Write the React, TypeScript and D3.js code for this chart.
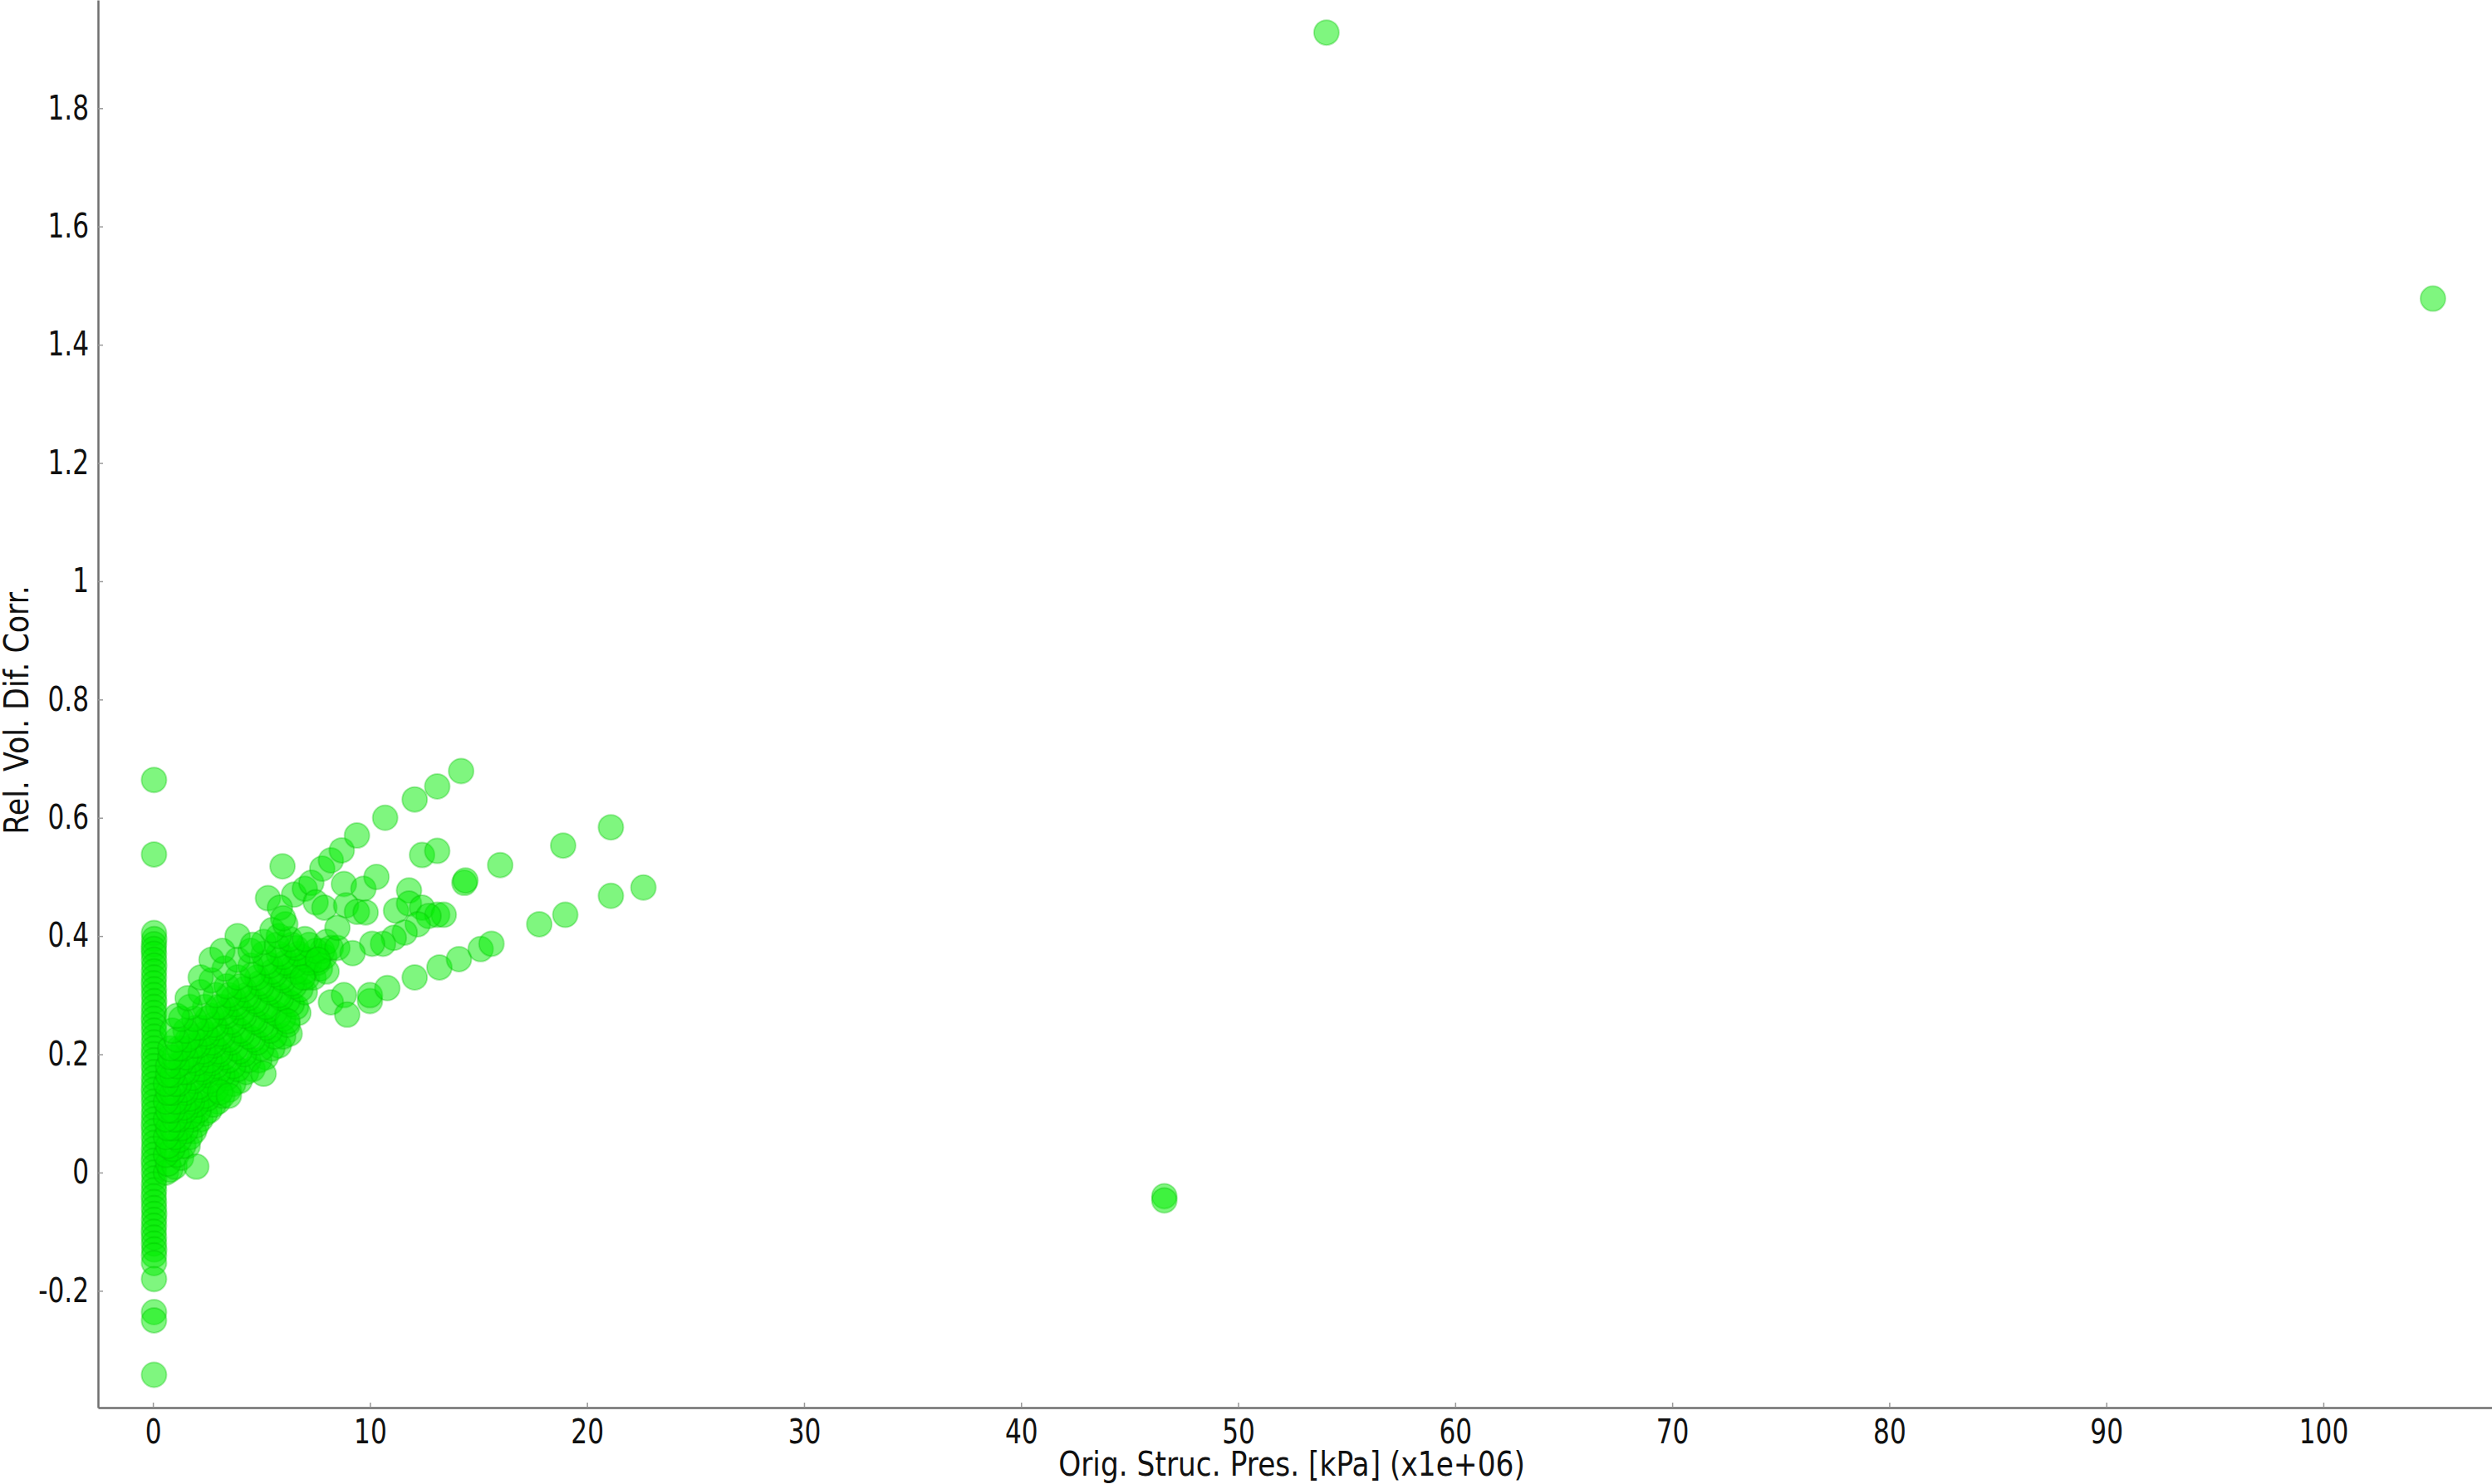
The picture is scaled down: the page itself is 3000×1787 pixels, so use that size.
import { useEffect, useRef } from "react"
import * as d3 from "d3"

// tick values
const xTicks = [0, 10, 20, 30, 40, 50, 60, 70, 80, 90, 100]
const yTicks = [-0.2, 0, 0.2, 0.4, 0.6, 0.8, 1, 1.2, 1.4, 1.6, 1.8]

// points sitting on x ~ 0 (the vertical column)
const columnPts: [number, number][] = [
  [0.05, 0.664], [0.05, 0.538], [0.05, 0.405], [0.06, 0.395], [0.05, 0.386], [0.04, 0.378],
  [0.05, 0.37], [0.05, 0.36], [0.06, 0.35], [0.05, 0.34], [0.05, 0.33], [0.04, 0.32],
  [0.05, 0.31], [0.05, 0.30], [0.06, 0.29], [0.05, 0.28], [0.05, 0.27], [0.04, 0.26],
  [0.05, 0.25], [0.05, 0.24], [0.06, 0.23], [0.05, 0.22], [0.05, 0.21], [0.04, 0.20],
  [0.05, 0.19], [0.05, 0.18], [0.06, 0.17], [0.05, 0.16], [0.05, 0.15], [0.04, 0.14],
  [0.05, 0.13], [0.05, 0.12], [0.06, 0.11], [0.05, 0.10], [0.05, 0.09], [0.04, 0.08],
  [0.05, 0.07], [0.05, 0.06], [0.06, 0.05], [0.05, 0.04], [0.05, 0.03], [0.04, 0.02],
  [0.05, 0.01], [0.05, 0.0], [0.06, -0.01], [0.05, -0.02], [0.05, -0.03], [0.04, -0.04],
  [0.05, -0.05], [0.05, -0.06], [0.06, -0.07], [0.05, -0.08], [0.05, -0.09], [0.04, -0.10],
  [0.05, -0.11], [0.05, -0.12], [0.06, -0.13], [0.05, -0.14], [0.05, -0.153], [0.05, -0.18],
  [0.05, -0.236], [0.05, -0.25], [0.05, -0.342],
]

// the dense band rising from the origin, read as streaks
const bandPts: [number, number][] = [
  [0.6, 0.0], [0.8, 0.005], [1.0, 0.01], [1.3, 0.025], [1.6, 0.045], [1.9, 0.07], [2.2, 0.09], [2.6, 0.105],
  [3.0, 0.12], [3.5, 0.14], [4.0, 0.155], [4.6, 0.175], [5.2, 0.195], [5.8, 0.215], [6.3, 0.235],
  [0.7, 0.015], [1.1, 0.03], [1.4, 0.045], [1.7, 0.06], [2.0, 0.08], [2.4, 0.1], [2.8, 0.115], [3.2, 0.13],
  [3.7, 0.15], [4.3, 0.17], [4.9, 0.19], [5.5, 0.21], [6.0, 0.23],
  [0.6, 0.03], [0.9, 0.04], [1.2, 0.055], [1.5, 0.07], [1.8, 0.09], [2.1, 0.105], [2.5, 0.125], [2.9, 0.14],
  [3.4, 0.16], [3.9, 0.175], [4.4, 0.19], [5.0, 0.21], [5.6, 0.23], [6.2, 0.25], [6.7, 0.27],
  [0.7, 0.045], [1.0, 0.06], [1.3, 0.075], [1.7, 0.095], [2.0, 0.115], [2.4, 0.13], [2.8, 0.15], [3.2, 0.165],
  [3.7, 0.18], [4.2, 0.2], [4.8, 0.22], [5.4, 0.24], [6.0, 0.26], [6.6, 0.28],
  [0.6, 0.06], [0.9, 0.075], [1.2, 0.09], [1.5, 0.105], [1.8, 0.12], [2.2, 0.14], [2.6, 0.155], [3.0, 0.17],
  [3.5, 0.19], [4.0, 0.205], [4.6, 0.225], [5.2, 0.245], [5.8, 0.265], [6.4, 0.285], [7.0, 0.305],
  [0.7, 0.075], [1.0, 0.09], [1.4, 0.11], [1.7, 0.125], [2.1, 0.145], [2.5, 0.165], [2.9, 0.18], [3.3, 0.195],
  [3.8, 0.21], [4.4, 0.23], [5.0, 0.25], [5.6, 0.27], [6.2, 0.29], [6.8, 0.31], [7.4, 0.33],
  [0.6, 0.09], [0.9, 0.105], [1.2, 0.12], [1.5, 0.135], [1.9, 0.155], [2.3, 0.17], [2.7, 0.185], [3.1, 0.2],
  [3.6, 0.22], [4.1, 0.235], [4.7, 0.255], [5.3, 0.275], [5.9, 0.295], [6.5, 0.315], [7.1, 0.33], [7.7, 0.345],
  [0.7, 0.105], [1.0, 0.12], [1.4, 0.14], [1.8, 0.16], [2.2, 0.175], [2.6, 0.19], [3.0, 0.205], [3.5, 0.225],
  [4.0, 0.24], [4.6, 0.26], [5.2, 0.28], [5.8, 0.3], [6.4, 0.32], [7.0, 0.34], [7.6, 0.355],
  [0.6, 0.12], [0.9, 0.135], [1.2, 0.15], [1.6, 0.17], [2.0, 0.185], [2.4, 0.2], [2.8, 0.215], [3.2, 0.23],
  [3.7, 0.25], [4.2, 0.265], [4.8, 0.285], [5.4, 0.305], [6.0, 0.325], [6.6, 0.34], [7.2, 0.355], [7.9, 0.365],
  [0.7, 0.135], [1.0, 0.15], [1.4, 0.17], [1.8, 0.19], [2.3, 0.205], [2.7, 0.22], [3.1, 0.235], [3.6, 0.255],
  [4.1, 0.27], [4.7, 0.29], [5.3, 0.31], [5.9, 0.33], [6.5, 0.35], [7.1, 0.36], [7.8, 0.375],
  [0.6, 0.15], [0.9, 0.165], [1.3, 0.185], [1.7, 0.2], [2.1, 0.215], [2.5, 0.23], [2.9, 0.245], [3.4, 0.265],
  [3.9, 0.28], [4.4, 0.295], [5.0, 0.315], [5.6, 0.335], [6.2, 0.35], [6.8, 0.365], [7.5, 0.375], [8.2, 0.38],
  [0.7, 0.165], [1.1, 0.18], [1.5, 0.195], [1.9, 0.215], [2.4, 0.235], [2.8, 0.25], [3.3, 0.27], [3.8, 0.285],
  [4.3, 0.3], [4.9, 0.32], [5.5, 0.34], [6.1, 0.355], [6.7, 0.37],
  [0.7, 0.18], [1.0, 0.195], [1.4, 0.21], [1.8, 0.23], [2.2, 0.245], [2.7, 0.265], [3.2, 0.28], [3.7, 0.295],
  [4.2, 0.31], [4.8, 0.33], [5.4, 0.35], [6.0, 0.365], [6.6, 0.38], [7.2, 0.385],
  [0.8, 0.195], [1.2, 0.21], [1.6, 0.225], [2.0, 0.245], [2.5, 0.26], [3.0, 0.28], [3.5, 0.3], [4.0, 0.315],
  [4.6, 0.335], [5.2, 0.355], [5.8, 0.37], [6.4, 0.385],
  [0.8, 0.21], [1.1, 0.225], [1.5, 0.24], [1.9, 0.26], [2.4, 0.28], [2.9, 0.3], [3.4, 0.315], [3.9, 0.33],
  [4.5, 0.35], [5.1, 0.37], [5.7, 0.385], [6.3, 0.395],
  [0.9, 0.24], [1.3, 0.26], [1.7, 0.28], [2.2, 0.305], [2.7, 0.325], [3.3, 0.345], [3.9, 0.36], [4.5, 0.375],
  [5.1, 0.39], [5.8, 0.4],
  [1.1, 0.265], [1.6, 0.295], [2.2, 0.33], [2.7, 0.36], [3.2, 0.375], [3.9, 0.4], [4.6, 0.385], [5.5, 0.41],
  [6.1, 0.42], [7.0, 0.395], [8.0, 0.39],
  [2.0, 0.01], [3.1, 0.136], [3.5, 0.13], [5.1, 0.167], [6.2, 0.256], [8.0, 0.34], [8.5, 0.38], [7.6, 0.36],
  [6.9, 0.33],
]

// branches leaving the band towards larger pressures
const branchPts: [number, number][] = [
  [5.3, 0.464], [5.97, 0.518], [6.5, 0.47], [7.0, 0.48], [7.3, 0.49], [7.8, 0.514], [8.2, 0.528], [8.7, 0.545],
  [9.4, 0.57], [10.7, 0.6], [12.06, 0.631], [13.1, 0.653], [14.2, 0.679],
  [5.85, 0.448], [6.0, 0.43], [7.5, 0.457], [7.9, 0.448], [8.8, 0.488], [9.7, 0.48], [10.3, 0.5], [8.9, 0.452],
  [9.4, 0.441], [9.8, 0.44], [8.5, 0.414], [11.8, 0.477], [11.2, 0.443], [11.8, 0.455], [12.4, 0.448],
  [13.1, 0.436], [13.4, 0.436], [12.7, 0.434], [12.2, 0.42], [11.6, 0.406], [11.1, 0.397], [10.6, 0.387],
  [10.1, 0.387], [9.2, 0.371],
  [8.2, 0.288], [8.8, 0.3], [8.95, 0.267], [10.0, 0.29], [10.0, 0.3], [10.8, 0.312], [12.06, 0.33],
  [13.2, 0.347], [14.1, 0.361], [15.1, 0.378], [15.6, 0.387],
  [12.4, 0.537], [13.1, 0.544], [14.35, 0.49], [14.4, 0.494], [16.0, 0.52], [17.8, 0.42], [19.0, 0.436],
  [18.9, 0.553], [21.1, 0.584], [21.1, 0.468], [22.6, 0.482],
]

// isolated far points
const farPts: [number, number][] = [
  [54.07, 1.928], [105.05, 1.478], [46.6, -0.04], [46.6, -0.047],
]

const font = "DejaVu Sans, Verdana, sans-serif"

export default function App() {
  const svgRef = useRef<SVGSVGElement>(null)

  useEffect(() => {
    if (!svgRef.current) return
    const svg = d3.select(svgRef.current)
    svg.selectAll("*").remove()

    const width = 3000
    const height = 1787
    const margin = { top: 0, right: 0, bottom: 92, left: 118 }

    const x = d3.scaleLinear().domain([-2.53, 107.77]).range([margin.left, width - margin.right])
    const y = d3.scaleLinear().domain([-0.3975, 1.983]).range([height - margin.bottom, margin.top])

    svg.append("rect").attr("width", width).attr("height", height).attr("fill", "#fff")

    const all = [...columnPts, ...bandPts, ...branchPts, ...farPts]

    svg
      .append("g")
      .selectAll("circle")
      .data(all)
      .join("circle")
      .attr("cx", (d) => x(d[0]))
      .attr("cy", (d) => y(d[1]))
      .attr("r", 15)
      .attr("fill", "rgb(0,238,0)")
      .attr("fill-opacity", 0.5)
      .attr("stroke", "rgb(0,190,0)")
      .attr("stroke-opacity", 0.3)
      .attr("stroke-width", 2)

    // x axis
    const gx = svg
      .append("g")
      .attr("transform", `translate(0,${height - margin.bottom})`)
      .call(d3.axisBottom(x).tickValues(xTicks).tickSizeInner(-6).tickSizeOuter(0).tickPadding(15))
    gx.select(".domain").attr("stroke", "#6f6f6f").attr("stroke-width", 2.5)
    gx.selectAll(".tick line").attr("stroke", "#999").attr("stroke-width", 1.5)
    gx.selectAll(".tick text")
      .attr("font-family", font)
      .attr("font-size", 40)
      .attr("fill", "#111")
      .attr("x", 0)
      .attr("transform", "scale(0.78,1)")

    // y axis
    const gy = svg
      .append("g")
      .attr("transform", `translate(${margin.left},0)`)
      .call(
        d3
          .axisLeft(y)
          .tickValues(yTicks)
          .tickFormat((d) => String(+(+d).toFixed(1)))
          .tickSizeInner(-6)
          .tickSizeOuter(0)
          .tickPadding(0)
      )
    gy.select(".domain").attr("stroke", "#6f6f6f").attr("stroke-width", 2.5)
    gy.selectAll(".tick line").attr("stroke", "#999").attr("stroke-width", 1.5)
    gy.selectAll(".tick text")
      .attr("font-family", font)
      .attr("font-size", 40)
      .attr("fill", "#111")
      .attr("x", 0)
      .attr("transform", "translate(-11,0) scale(0.78,1)")

    // axis titles
    svg
      .append("text")
      .attr("transform", `translate(${(margin.left + width) / 2 - 4},1777) scale(0.86,1)`)
      .attr("text-anchor", "middle")
      .attr("font-family", font)
      .attr("font-size", 40)
      .attr("fill", "#111")
      .text("Orig. Struc. Pres. [kPa] (x1e+06)")

    svg
      .append("text")
      .attr("transform", `translate(34,855) rotate(-90) scale(0.87,1)`)
      .attr("text-anchor", "middle")
      .attr("font-family", font)
      .attr("font-size", 40)
      .attr("fill", "#111")
      .text("Rel. Vol. Dif. Corr.")
  }, [])

  return (
    <svg
      ref={svgRef}
      width={3000}
      height={1787}
      style={{ position: "absolute", left: 0, top: 0, display: "block" }}
    />
  )
}
